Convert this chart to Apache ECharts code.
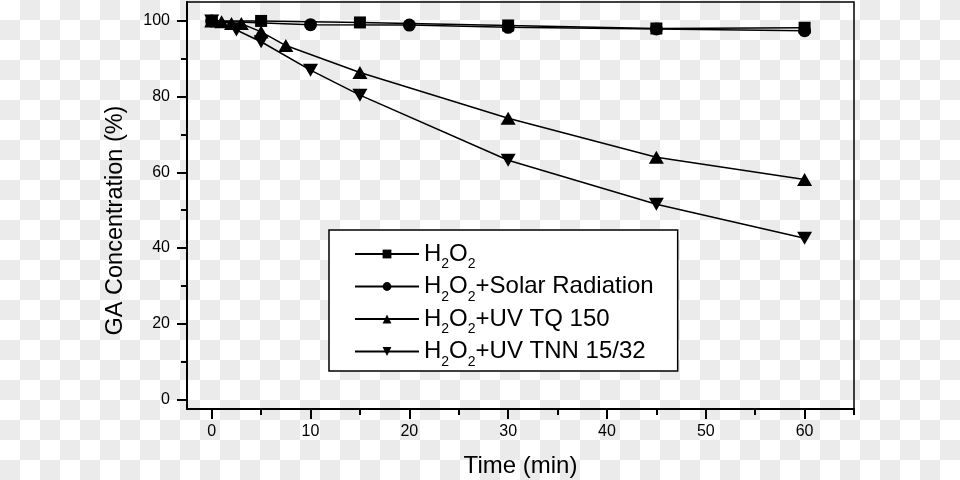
<!DOCTYPE html>
<html><head><meta charset="utf-8">
<script src="https://cdn.jsdelivr.net/npm/echarts@6/dist/echarts.min.js"></script>
<style>html,body{margin:0;padding:0;}#c{width:960px;height:480px;}</style>
</head><body><div id="c"></div>
<script>
// ---- data ----
const timeH2O2 = [0, 5, 15, 30, 45, 60];
const valH2O2  = [100, 100, 99.6, 98.8, 98.0, 98.2];
const timeSolar = [0, 10, 20, 30, 45, 60];
const valSolar  = [100, 99.0, 98.9, 98.3, 97.9, 97.4];
const timeTQ = [0, 1, 2, 3, 5, 7.5, 15, 30, 45, 60];
const valTQ  = [100, 99.8, 99.3, 99.3, 97.1, 93.5, 86.4, 74.3, 64.0, 58.1];
const timeTNN = [0, 2.5, 5, 10, 15, 30, 45, 60];
const valTNN  = [100, 97.6, 94.5, 87.0, 80.4, 63.2, 51.6, 42.6];
const xMajorTicks = [0, 10, 20, 30, 40, 50, 60];
const xMinorTicks = [5, 15, 25, 35, 45, 55, 65];
const yMajorTicks = [0, 20, 40, 60, 80, 100];
const yMinorTicks = [10, 30, 50, 70, 90];
const seriesNames = ['H2O2', 'H2O2+Solar Radiation', 'H2O2+UV TQ 150', 'H2O2+UV TNN 15/32'];
const xTitle = 'Time (min)';
const yTitle = 'GA Concentration (%)';

// ---- build ----
const FONT = '"Liberation Sans", Arial, Helvetica, sans-serif';
function pairs(xs, ys) { return xs.map((x, i) => [x, ys[i]]); }

const cvs = document.createElement('canvas');
cvs.width = 40; cvs.height = 40;
const g = cvs.getContext('2d');
g.fillStyle = '#ffffff'; g.fillRect(0, 0, 40, 40);
g.fillStyle = '#ebebeb'; g.fillRect(20, 0, 20, 20); g.fillRect(0, 20, 20, 20);

const downTri = 'path://M0,0L20,0L10,17Z';
const symbols = ['rect', 'circle', 'triangle', downTri];
const sizes = [12, 13, [15, 13], [15, 13]];
const datas = [pairs(timeH2O2, valH2O2), pairs(timeSolar, valSolar), pairs(timeTQ, valTQ), pairs(timeTNN, valTNN)];

const series = seriesNames.map((n, i) => ({
  name: n, type: 'line', data: datas[i], xAxisIndex: 0, yAxisIndex: 0,
  symbol: symbols[i], symbolSize: sizes[i], showAllSymbol: true,
  lineStyle: { color: '#000', width: 1.5 },
  itemStyle: { color: '#000', borderWidth: 0 },
  emphasis: { disabled: true }, animation: false
}));

const axisCommon = {
  type: 'value', splitLine: { show: false },
  axisLine: { onZero: false, lineStyle: { color: '#000', width: 2 } }
};

const chart = echarts.init(document.getElementById('c'), null, { renderer: 'canvas' });
chart.setOption({
  animation: false,
  backgroundColor: { image: cvs, repeat: 'repeat' },
  grid: { left: 187, right: 106, top: 2, bottom: 71, outerBoundsMode: 'none', containLabel: false,
          show: true, borderColor: '#000', borderWidth: 1.5, backgroundColor: 'transparent' },
  xAxis: [
    Object.assign({}, axisCommon, {
      min: -2.5, max: 65, position: 'bottom',
      axisTick: { customValues: xMajorTicks, length: 10, lineStyle: { color: '#000', width: 2 } },
      axisLabel: { customValues: xMajorTicks, margin: 15, fontSize: 16, color: '#000', fontFamily: FONT },
      name: xTitle, nameLocation: 'middle', nameGap: 45,
      nameTextStyle: { fontSize: 24, color: '#000', fontFamily: FONT }
    }),
    Object.assign({}, axisCommon, {
      min: -2.5, max: 65, position: 'bottom',
      axisLine: { show: false, onZero: false },
      axisTick: { customValues: xMinorTicks, length: 6, lineStyle: { color: '#000', width: 2 } },
      axisLabel: { show: false }
    })
  ],
  yAxis: [
    Object.assign({}, axisCommon, {
      min: -2.5, max: 105, position: 'left',
      axisTick: { customValues: yMajorTicks, length: 10, lineStyle: { color: '#000', width: 2 } },
      axisLabel: { customValues: yMajorTicks, margin: 17, fontSize: 16, color: '#000', fontFamily: FONT },
      name: yTitle, nameLocation: 'middle', nameGap: 59, nameRotate: 90,
      nameTextStyle: { fontSize: 23.5, color: '#000', fontFamily: FONT, padding: [0, 30, 0, 0] }
    }),
    Object.assign({}, axisCommon, {
      min: -2.5, max: 105, position: 'left',
      axisLine: { show: false, onZero: false },
      axisTick: { customValues: yMinorTicks, length: 6, lineStyle: { color: '#000', width: 2 } },
      axisLabel: { show: false }
    })
  ],
  legend: {
    data: seriesNames, orient: 'vertical', left: 329, top: 230,
    backgroundColor: '#ffffff', borderColor: '#000', borderWidth: 1.5, borderRadius: 0,
    padding: [12, 24, 2, 25], itemGap: 3, itemWidth: 64, itemHeight: 11,
    selectedMode: false,
    formatter: function (name) {
      const rest = name.slice(4);
      return '{n|H}{s|2}{n|O}{s|2}' + (rest ? '{n|' + rest + '}' : '');
    },
    textStyle: {
      rich: {
        n: { fontSize: 24, fontFamily: FONT, color: '#000', padding: [5.5, 0, 5.5, 0] },
        s: { fontSize: 14, fontFamily: FONT, color: '#000', padding: [21, 0, 0, 0] }
      }
    }
  },
  series: series
});
</script>
</body></html>
